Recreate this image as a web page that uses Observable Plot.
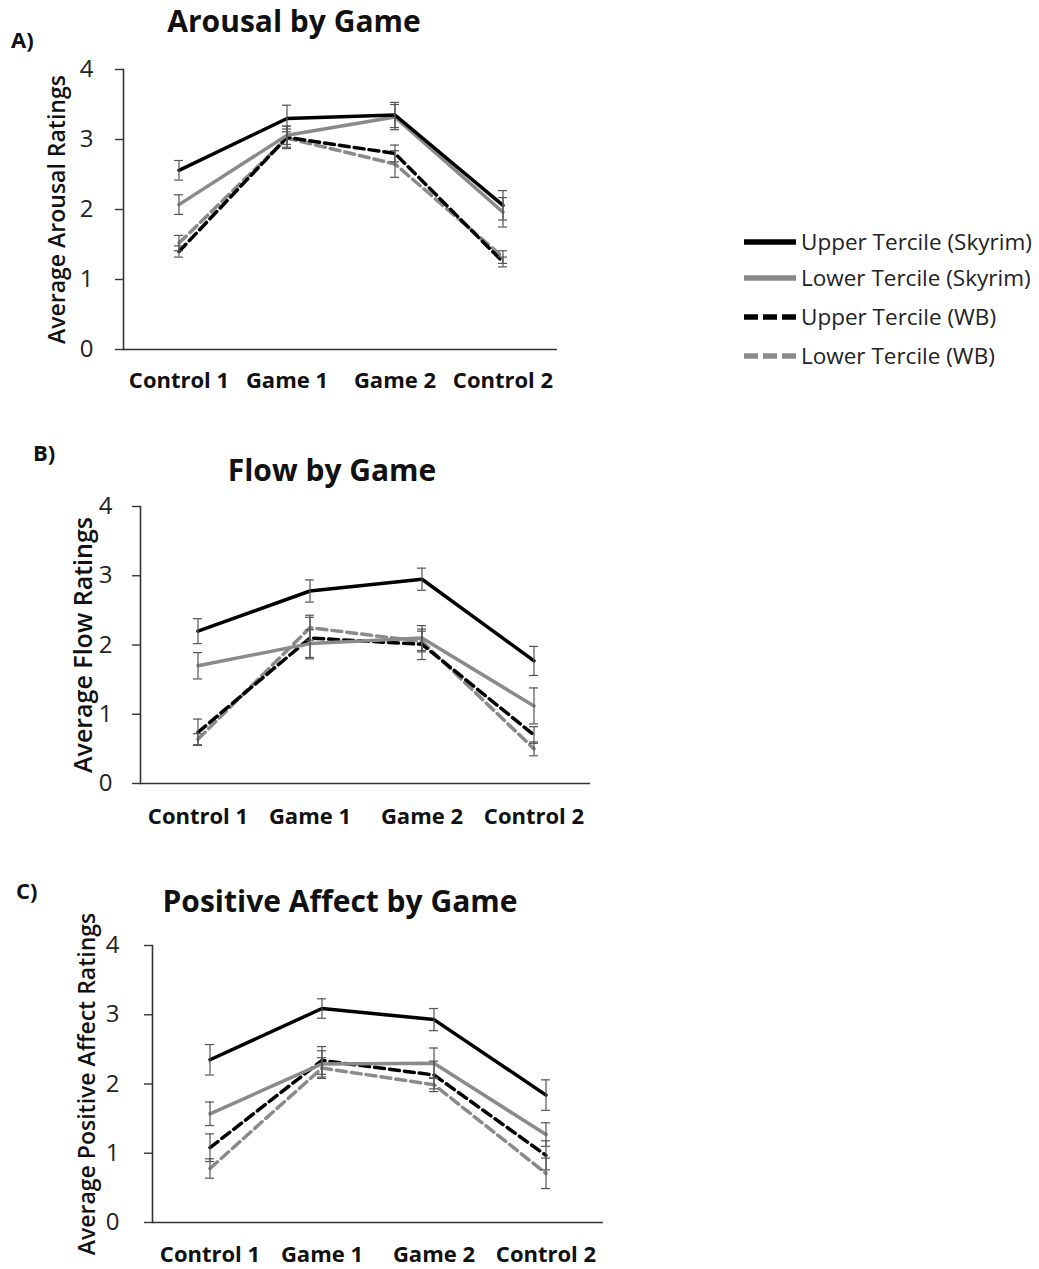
<!DOCTYPE html>
<html><head><meta charset="utf-8">
<script src="https://cdn.jsdelivr.net/npm/d3@7"></script>
<script src="https://cdn.jsdelivr.net/npm/@observablehq/plot@0.6"></script>
<style>
body{margin:0;background:#fff;font-family:"Open Sans",sans-serif;}
#root{position:relative;width:1039px;height:1269px;overflow:hidden;background:#fff;}
.abs{position:absolute;white-space:nowrap;line-height:1;color:#111;}
.plotbox{position:absolute;left:0;}
</style></head><body><div id="root"></div>
<script>
const conditions = ["Control 1", "Game 1", "Game 2", "Control 2"];
const seriesNames = ["Upper Tercile (Skyrim)", "Lower Tercile (Skyrim)", "Upper Tercile (WB)", "Lower Tercile (WB)"];
const seriesColors = ["#000000", "#8a8a8a", "#000000", "#8a8a8a"];
const seriesDashed = [false, false, true, true];

// Panel A: Arousal
const arousalUpperSkyrim = [2.56, 3.30, 3.35, 2.06];
const arousalLowerSkyrim = [2.07, 3.06, 3.32, 1.96];
const arousalUpperWB     = [1.40, 3.03, 2.80, 1.25];
const arousalLowerWB     = [1.52, 3.02, 2.65, 1.32];
const arousalErrUpperSkyrim = [0.14, 0.19, 0.18, 0.21];
const arousalErrLowerSkyrim = [0.14, 0.13, 0.18, 0.21];
const arousalErrUpperWB     = [0.08, 0.16, 0.12, 0.07];
const arousalErrLowerWB     = [0.11, 0.13, 0.19, 0.09];

// Panel B: Flow
const flowUpperSkyrim = [2.20, 2.78, 2.95, 1.77];
const flowLowerSkyrim = [1.70, 2.02, 2.10, 1.12];
const flowUpperWB     = [0.74, 2.10, 2.01, 0.70];
const flowLowerWB     = [0.64, 2.25, 2.05, 0.50];
const flowErrUpperSkyrim = [0.18, 0.16, 0.16, 0.21];
const flowErrLowerSkyrim = [0.19, 0.20, 0.18, 0.26];
const flowErrUpperWB     = [0.19, 0.30, 0.22, 0.12];
const flowErrLowerWB     = [0.08, 0.18, 0.15, 0.10];

// Panel C: Positive Affect
const affectUpperSkyrim = [2.35, 3.09, 2.93, 1.84];
const affectLowerSkyrim = [1.57, 2.29, 2.30, 1.27];
const affectUpperWB     = [1.08, 2.34, 2.13, 0.97];
const affectLowerWB     = [0.78, 2.23, 1.99, 0.71];
const affectErrUpperSkyrim = [0.22, 0.14, 0.16, 0.22];
const affectErrLowerSkyrim = [0.17, 0.19, 0.22, 0.17];
const affectErrUpperWB     = [0.20, 0.20, 0.20, 0.21];
const affectErrLowerWB     = [0.14, 0.15, 0.10, 0.22];

const yTicks = [0, 1, 2, 3, 4];

const panels = [
  {letter: "A)", title: "Arousal by Game", ylabel: "Average Arousal Ratings",
   values: [arousalUpperSkyrim, arousalLowerSkyrim, arousalUpperWB, arousalLowerWB],
   errors: [arousalErrUpperSkyrim, arousalErrLowerSkyrim, arousalErrUpperWB, arousalErrLowerWB],
   svgTop: 0, height: 420, left: 123, right: 557, top: 69, bottom: 349,
   tickPad: 22, xPad: 23, ylabelDx: -66, ylabelSize: 23,
   letterPos: [11, 48], titleCenter: 294, titleBase: 33},
  {letter: "B)", title: "Flow by Game", ylabel: "Average Flow Ratings",
   values: [flowUpperSkyrim, flowLowerSkyrim, flowUpperWB, flowLowerWB],
   errors: [flowErrUpperSkyrim, flowErrLowerSkyrim, flowErrUpperWB, flowErrLowerWB],
   svgTop: 440, height: 400, left: 140, right: 590, top: 506, bottom: 783,
   tickPad: 20, xPad: 25, ylabelDx: -57, ylabelSize: 25,
   letterPos: [33, 461], titleCenter: 332, titleBase: 482},
  {letter: "C)", title: "Positive Affect by Game", ylabel: "Average Positive Affect Ratings",
   values: [affectUpperSkyrim, affectLowerSkyrim, affectUpperWB, affectLowerWB],
   errors: [affectErrUpperSkyrim, affectErrLowerSkyrim, affectErrUpperWB, affectErrLowerWB],
   svgTop: 869, height: 400, left: 152, right: 603, top: 945, bottom: 1222,
   tickPad: 25, xPad: 24, ylabelDx: -65, ylabelSize: 23,
   letterPos: [16, 899], titleCenter: 340, titleBase: 913}
];

const root = document.getElementById("root");
const W = 640;

function addText(txt, x, baseline, size, weight, anchorCenter) {
  const d = document.createElement("div");
  d.className = "abs";
  d.textContent = txt;
  d.style.fontSize = size + "px";
  d.style.fontWeight = weight;
  d.style.top = (baseline - 0.888 * size) + "px";
  d.style.left = x + "px";
  if (anchorCenter) d.style.transform = "translateX(-50%)";
  root.appendChild(d);
}

for (const p of panels) {
  const rows = [];
  p.values.forEach((vals, s) => vals.forEach((v, i) => rows.push({
    series: seriesNames[s], s, condition: conditions[i], value: v, err: p.errors[s][i]
  })));
  const frameW = p.right - p.left;
  const step = frameW / 4;
  const pi = 1 - 9 / step;
  const marks = [
    Plot.ruleY([0], {stroke: "#333", strokeWidth: 1.6}),
    Plot.frame({anchor: "left", stroke: "#333", strokeWidth: 1.6}),
    Plot.axisY({ticks: yTicks, tickSize: 8, tickPadding: p.tickPad, fontSize: 24, label: null,
                tickFormat: d => String(d), stroke: "#333", strokeWidth: 1.4, color: "#222"}),
    Plot.axisX({tickSize: 0, tickPadding: p.xPad, fontSize: 22, fontWeight: "bold", label: null, color: "#111"}),
    Plot.text([p.ylabel], {frameAnchor: "left", textAnchor: "middle", rotate: -90, dx: p.ylabelDx,
                           fontSize: p.ylabelSize, fontWeight: 600, fill: "#111", text: d => d})
  ];
  for (const s of [3, 2, 1, 0]) {
    marks.push(Plot.line(rows.filter(r => r.s === s), {
      x: "condition", y: "value", stroke: seriesColors[s], strokeWidth: 3.5,
      strokeDasharray: seriesDashed[s] ? "10,5" : null, strokeLinejoin: "miter"
    }));
  }
  marks.push(Plot.ruleX(rows, {x: "condition", y1: d => d.value - d.err, y2: d => d.value + d.err,
                               stroke: "#555", strokeWidth: 1.2}));
  marks.push(Plot.tickY(rows, {x: "condition", y: d => d.value - d.err, stroke: "#555", strokeWidth: 1.2}));
  marks.push(Plot.tickY(rows, {x: "condition", y: d => d.value + d.err, stroke: "#555", strokeWidth: 1.2}));

  const chart = Plot.plot({
    width: W, height: p.height,
    marginLeft: p.left, marginRight: W - p.right,
    marginTop: p.top - p.svgTop, marginBottom: p.svgTop + p.height - p.bottom,
    style: {fontFamily: "Open Sans", background: "transparent", overflow: "visible"},
    x: {type: "band", domain: conditions, paddingInner: pi, paddingOuter: pi / 2, align: 0.5},
    y: {domain: [0, 4]},
    marks
  });
  const box = document.createElement("div");
  box.className = "plotbox";
  box.style.top = p.svgTop + "px";
  box.appendChild(chart);
  root.appendChild(box);

  addText(p.letter, p.letterPos[0], p.letterPos[1], 22, 700, false);
  addText(p.title, p.titleCenter, p.titleBase, 30, 700, true);
}

// Legend
const ns = "http://www.w3.org/2000/svg";
const leg = document.createElementNS(ns, "svg");
leg.setAttribute("width", 300);
leg.setAttribute("height", 180);
leg.style.position = "absolute";
leg.style.left = "739px";
leg.style.top = "210px";
const legendCenters = [32, 68, 107, 146];
seriesNames.forEach((name, s) => {
  const cy = legendCenters[s];
  const ln = document.createElementNS(ns, "line");
  ln.setAttribute("x1", 5); ln.setAttribute("x2", 57);
  ln.setAttribute("y1", cy); ln.setAttribute("y2", cy);
  ln.setAttribute("stroke", seriesColors[s]);
  ln.setAttribute("stroke-width", 5.5);
  if (seriesDashed[s]) ln.setAttribute("stroke-dasharray", "14,5");
  leg.appendChild(ln);
  const t = document.createElementNS(ns, "text");
  t.setAttribute("x", 62); t.setAttribute("y", cy + 8);
  t.setAttribute("font-family", "Open Sans");
  t.setAttribute("font-size", 22.5);
  t.setAttribute("fill", "#222");
  t.textContent = name;
  leg.appendChild(t);
});
root.appendChild(leg);
</script></body></html>
